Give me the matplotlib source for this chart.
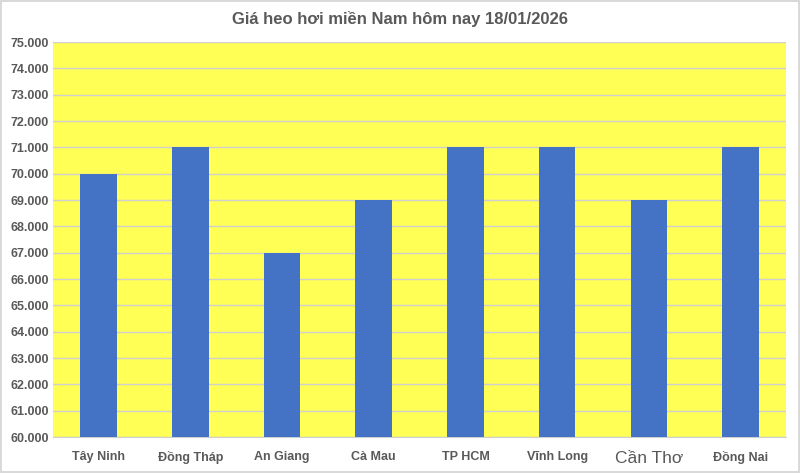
import matplotlib.pyplot as plt
from matplotlib.ticker import FuncFormatter, MultipleLocator

plt.rcParams['font.family'] = ['Liberation Sans', 'DejaVu Sans']

provinces = ['Tây Ninh', 'Đồng Tháp', 'An Giang', 'Cà Mau', 'TP HCM', 'Vĩnh Long', 'Cần Thơ', 'Đồng Nai']
prices = [70000, 71000, 67000, 69000, 71000, 71000, 69000, 71000]

text_color = '#595959'

fig = plt.figure(figsize=(8, 4.73), dpi=100)
fig.patch.set_facecolor('white')
fig.patch.set_edgecolor('#d9d9d9')
fig.patch.set_linewidth(1.5)

ax = fig.add_axes([0.066, 0.076, 0.917, 0.835])
ax.set_facecolor('#ffff55')
ax.bar(range(len(provinces)), prices, width=0.4, color='#4472c4', zorder=3)

ax.set_ylim(60000, 75000)
ax.set_xlim(-0.5, len(provinces) - 0.5)
ax.yaxis.set_major_locator(MultipleLocator(1000))
ax.yaxis.set_major_formatter(FuncFormatter(lambda v, p: f'{v:,.0f}'.replace(',', '.')))
ax.grid(axis='y', color='#d0d0d0', linewidth=1, zorder=0)

for s in ['top', 'right', 'left']:
    ax.spines[s].set_visible(False)
ax.spines['bottom'].set_color('#d0d0d0')
ax.tick_params(length=0)
ax.tick_params(axis='y', labelsize=9, labelcolor=text_color, pad=3)

ax.set_xticks(range(len(provinces)))
ax.set_xticklabels(provinces, fontsize=9, color=text_color, fontweight='bold')
ax.tick_params(axis='x', pad=10)
for lbl in ax.get_xticklabels():
    if lbl.get_text() == 'Cần Thơ':
        lbl.set_fontsize(12.5)
        lbl.set_fontweight('normal')
for lbl in ax.get_yticklabels():
    lbl.set_fontweight('bold')

fig.text(0.5, 0.96, 'Giá heo hơi miền Nam hôm nay 18/01/2026', ha='center', va='center',
         fontsize=12, color=text_color, fontweight='bold')

fig.savefig('out.png', dpi=100)
